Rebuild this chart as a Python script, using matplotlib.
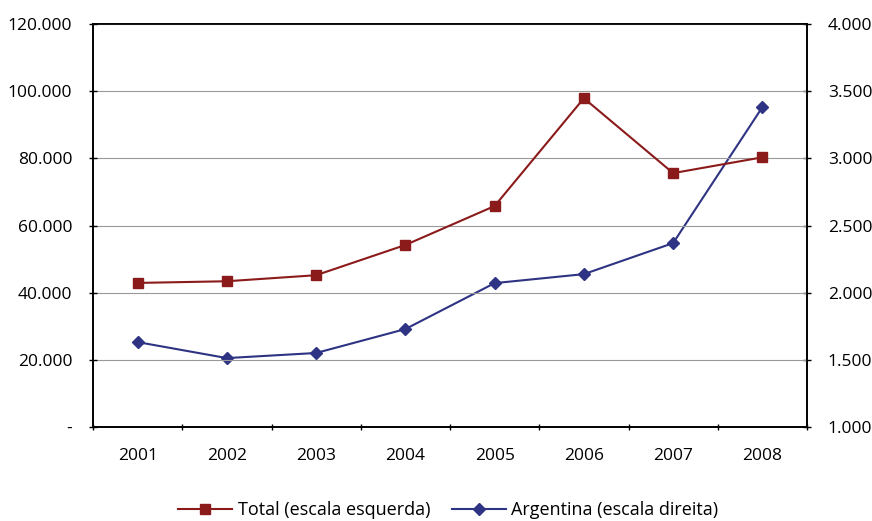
import matplotlib.pyplot as plt
from matplotlib.ticker import FuncFormatter, FixedLocator

plt.rcParams['font.family'] = ['Open Sans', 'DejaVu Sans']

years = ["2001", "2002", "2003", "2004", "2005", "2006", "2007", "2008"]
total = [42900, 43400, 45200, 54200, 65800, 97900, 75600, 80300]
argentina = [1632, 1513, 1551, 1729, 2071, 2138, 2369, 3381]

RED = "#8b1a1a"
BLUE = "#2e3383"


def thousands(v, _pos):
    if v == 0:
        return "-"
    return f"{v:,.0f}".replace(",", ".")


fig = plt.figure(figsize=(8.72, 5.21), dpi=100)
ax = fig.add_axes([93 / 872, 1 - 427 / 521, (807 - 93) / 872, (427 - 24) / 521])
ax2 = ax.twinx()

x = list(range(len(years)))
l1, = ax.plot(x, total, color=RED, marker="s", markersize=7, linewidth=1.5,
              label="Total (escala esquerda)")
l2, = ax2.plot(x, argentina, color=BLUE, marker="D", markersize=6, linewidth=1.5,
               label="Argentina (escala direita)")

ax.set_xlim(-0.5, len(years) - 0.5)
ax.set_ylim(0, 120000)
ax2.set_ylim(1000, 4000)
ax.set_yticks(range(0, 120001, 20000))
ax2.set_yticks(range(1000, 4001, 500))
ax.yaxis.set_major_formatter(FuncFormatter(thousands))
ax2.yaxis.set_major_formatter(FuncFormatter(thousands))

# category labels centred, ticks on the boundaries
ax.set_xticks(x)
ax.set_xticklabels(years)
ax.xaxis.set_minor_locator(FixedLocator([i - 0.5 for i in range(len(years) + 1)]))
ax.tick_params(axis="x", which="major", length=0, pad=15, labelsize=12.5)
ax.tick_params(axis="x", which="minor", length=5, direction="inout", width=1)
ax.tick_params(axis="y", length=6, direction="inout", width=1, labelsize=12.5, pad=12)
ax2.tick_params(axis="y", length=6, direction="inout", width=1, labelsize=12.5, pad=12)

ax.grid(axis="y", color="#999999", linestyle="-", linewidth=0.8)
for a in (ax, ax2):
    for s in a.spines.values():
        s.set_color("black")
        s.set_linewidth(1.2)
ax.set_zorder(ax2.get_zorder() + 1)
ax.patch.set_visible(False)

fig.legend(handles=[l1, l2], loc="center", bbox_to_anchor=(0.514, 1 - 510 / 521),
           ncol=2, frameon=False, fontsize=13, handlelength=3, columnspacing=1.2,
           handletextpad=0.3)

fig.savefig("out.png", dpi=100)
